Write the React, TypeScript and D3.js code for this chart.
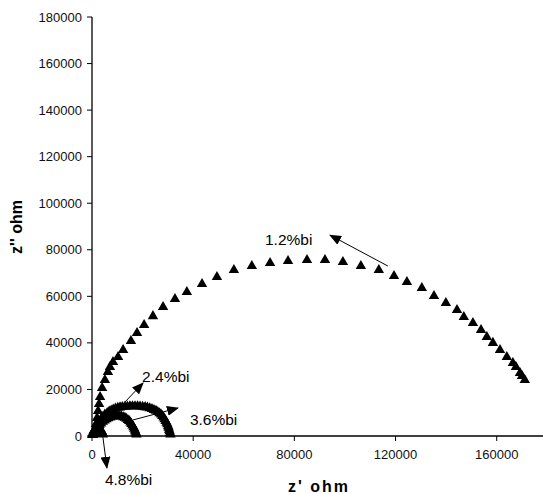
import React from "react";
import * as d3 from "d3";

const W = 543;
const H = 494;

// 1.2%bi series [z', z'']
const s12X = [1200, 1600, 2000, 2400, 2800, 3200, 4000, 5100, 6300, 7100, 8300, 10300, 12300, 15400, 17800, 20600, 24100, 28100, 32800, 37500, 43500, 49400, 56100, 63200, 70400, 77500, 85000, 92100, 99200, 106300, 113400, 119400, 124500, 130400, 135200, 139900, 144300, 147000, 150600, 153800, 156100, 158500, 161300, 164000, 166400, 167600, 169200, 170000, 171100];
const s12Y = [2600, 5200, 7700, 10700, 13700, 16800, 20600, 24100, 27500, 29600, 31800, 33900, 36900, 40800, 44200, 47700, 51500, 55400, 58900, 61900, 65300, 68300, 71300, 73000, 74300, 75200, 75600, 75600, 74700, 73000, 71300, 68700, 66200, 63600, 60100, 57100, 54100, 51100, 48500, 45500, 42500, 40000, 36900, 33900, 31400, 29600, 27100, 25800, 24100];

// 2.4%bi series
const s24X = [300, 600, 1000, 1600, 2200, 2800, 3500, 4300, 5100, 6000, 6800, 7600, 8400, 9300, 10200, 11100, 12000, 13000, 14000, 15000, 16000, 17000, 18000, 19000, 20000, 21000, 21900, 22800, 23700, 24500, 25300, 26000, 26700, 27300, 27800, 28300, 28700, 29100, 29500, 29800, 30100, 30300, 30500, 30700, 30900, 31000];
const s24Y = [500, 1200, 2300, 3400, 4700, 6000, 7200, 8300, 9200, 9900, 10500, 11000, 11400, 11800, 12100, 12300, 12500, 12600, 12700, 12800, 12800, 12800, 12800, 12700, 12600, 12400, 12200, 11900, 11600, 11200, 10800, 10300, 9800, 9200, 8600, 7900, 7200, 6500, 5700, 5000, 4200, 3500, 2700, 2000, 1300, 700];

// 3.6%bi series
const s36X = [400, 800, 1300, 1800, 2400, 3000, 3600, 4300, 5000, 5700, 6400, 7200, 7900, 8700, 9500, 10200, 11000, 11700, 12400, 13000, 13600, 14200, 14700, 15200, 15600, 16000, 16400, 16700, 17000, 17200, 17400, 17600];
const s36Y = [400, 1000, 1900, 2900, 3800, 4700, 5400, 6100, 6700, 7200, 7600, 8000, 8300, 8500, 8600, 8600, 8500, 8400, 8100, 7800, 7400, 6900, 6400, 5800, 5200, 4500, 3800, 3100, 2400, 1800, 1200, 600];

// 4.8%bi series
const s48X = [100, 200, 400, 600, 900, 1200, 1600, 2000, 2400, 2800, 3200, 3500, 3800, 4000, 4200, 4300];
const s48Y = [400, 800, 1400, 2000, 2500, 3000, 3300, 3500, 3500, 3300, 3000, 2600, 2100, 1600, 1100, 600];

const xTicks = [0, 40000, 80000, 120000, 160000];
const yTicks = [0, 20000, 40000, 60000, 80000, 100000, 120000, 140000, 160000, 180000];

// annotations: label, text anchor point, arrow start, arrow tip (data units)
const annLabels = ["1.2%bi", "2.4%bi", "3.6%bi", "4.8%bi"];
const annText = [[68400, 82050], [19800, 23200], [38700, 4700], [5100, -21000]];
const annFrom = [[117000, 73000], [11900, 13300], [16200, 6900], [4300, -400]];
const annTo = [[94100, 86300], [20200, 22800], [34000, 12000], [5900, -13700]];

const FONT = "'Liberation Sans', Arial, Helvetica, sans-serif";

export default function App() {
  const x = d3.scaleLinear().domain([0, 178300]).range([92, 543]);
  const y = d3.scaleLinear().domain([0, 180000]).range([436, 17]);
  const tri = d3.symbol().type(d3.symbolTriangle).size(47)() as string;

  const series = [
    { xs: s12X, ys: s12Y },
    { xs: s24X, ys: s24Y },
    { xs: s36X, ys: s36Y },
    { xs: s48X, ys: s48Y },
  ];

  return (
    <svg width={W} height={H} style={{ position: "absolute", left: 0, top: 0, background: "#fff" }} fontFamily={FONT}>
      <defs>
        <marker id="ah" viewBox="0 0 12 10" refX="11" refY="5" markerWidth="12" markerHeight="10" markerUnits="userSpaceOnUse" orient="auto">
          <path d="M0,0 L12,5 L0,10 Z" fill="#000" />
        </marker>
      </defs>
      <rect x={0} y={0} width={W} height={H} fill="#fff" />
      {/* axes */}
      <line x1={x(0)} x2={x(0)} y1={y(180000)} y2={y(0) + 2} stroke="#000" strokeWidth={1.3} />
      <line x1={x(0) - 4} x2={543} y1={y(0)} y2={y(0)} stroke="#000" strokeWidth={1.3} />
      {yTicks.map((t) => (
        <g key={"y" + t}>
          <line x1={x(0) - 5} x2={x(0)} y1={y(t)} y2={y(t)} stroke="#000" strokeWidth={1} />
          <text x={x(0) - 10} y={y(t)} dy="0.35em" textAnchor="end" fontSize={13} fill="#111">{t}</text>
        </g>
      ))}
      {xTicks.map((t) => (
        <g key={"x" + t}>
          <line x1={x(t)} x2={x(t)} y1={y(0)} y2={y(0) + 5} stroke="#000" strokeWidth={1} />
          <text x={x(t)} y={y(0) + 18} dy="0.35em" textAnchor="middle" fontSize={13} fill="#111">{t}</text>
        </g>
      ))}
      {/* axis titles */}
      <text x={319} y={492} textAnchor="middle" fontSize={16} fontWeight="bold" letterSpacing={2}>z' ohm</text>
      <text transform={`translate(22,227) rotate(-90)`} textAnchor="middle" fontSize={16} fontWeight="bold">z'' ohm</text>
      {/* data */}
      {series.map((s, si) => (
        <g key={"s" + si}>
          {s.xs.map((v, i) => (
            <path key={i} d={tri} transform={`translate(${x(v)},${y(s.ys[i])})`} fill="#000" />
          ))}
        </g>
      ))}
      {/* annotations */}
      {annLabels.map((lab, i) => (
        <g key={"a" + i}>
          <line x1={x(annFrom[i][0])} y1={y(annFrom[i][1])} x2={x(annTo[i][0])} y2={y(annTo[i][1])} stroke="#000" strokeWidth={1} markerEnd="url(#ah)" />
          <text x={x(annText[i][0])} y={y(annText[i][1])} fontSize={15.5} fill="#000">{lab}</text>
        </g>
      ))}
    </svg>
  );
}
